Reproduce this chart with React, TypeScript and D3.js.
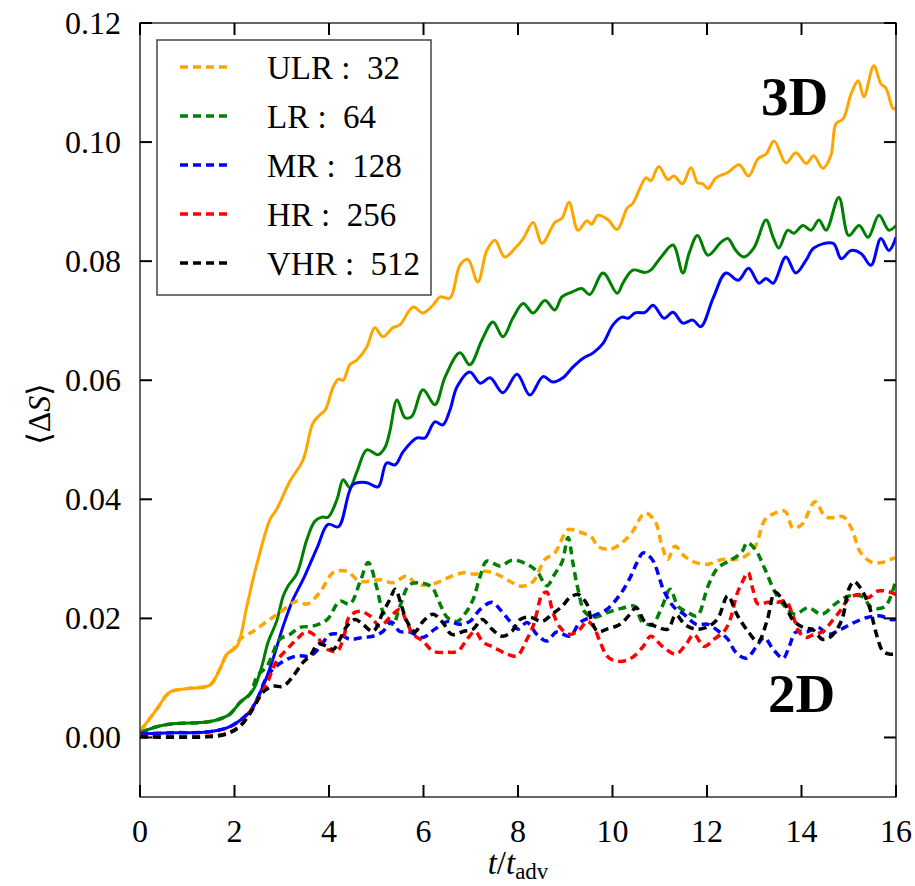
import React from "react";
import * as d3 from "d3";

type P = [number, number];

const xTicks = [0, 2, 4, 6, 8, 10, 12, 14, 16];
const yTicks = [0, 0.02, 0.04, 0.06, 0.08, 0.1, 0.12];

const seriesNames = ["ULR :  32", "LR :  64", "MR :  128", "HR :  256", "VHR :  512"];
const seriesColors = ["#FFA500", "#008000", "#0000FF", "#FF0000", "#000000"];

const ulr3d: P[] = [[0,0.001],[0.36,0.0048],[0.63,0.0076],[1.0,0.0082],[1.48,0.0088],[1.69,0.0115],[1.84,0.014],[2.05,0.0153],[2.26,0.022],[2.39,0.0265],[2.5,0.0299],[2.75,0.0366],[2.89,0.0383],[3.17,0.043],[3.45,0.0466],[3.66,0.0528],[3.81,0.0542],[3.92,0.055],[4.09,0.0589],[4.2,0.0602],[4.3,0.060],[4.44,0.0626],[4.59,0.0634],[4.8,0.0656],[4.97,0.0688],[5.14,0.0673],[5.35,0.0688],[5.5,0.0693],[5.78,0.0723],[5.99,0.0713],[6.2,0.0726],[6.35,0.074],[6.56,0.0738],[6.77,0.0793],[6.94,0.0803],[7.15,0.0765],[7.34,0.0818],[7.51,0.0835],[7.72,0.0807],[7.94,0.0822],[8.11,0.0838],[8.32,0.0865],[8.51,0.083],[8.78,0.0865],[8.93,0.0872],[9.08,0.0899],[9.27,0.0852],[9.46,0.0868],[9.56,0.0862],[9.69,0.0877],[9.9,0.087],[10.1,0.0853],[10.31,0.0889],[10.43,0.0897],[10.71,0.094],[10.81,0.0935],[10.98,0.0959],[11.17,0.0937],[11.3,0.0943],[11.48,0.093],[11.66,0.0957],[11.8,0.0932],[11.91,0.093],[12.02,0.0922],[12.19,0.094],[12.44,0.0949],[12.68,0.0962],[12.88,0.0943],[13.08,0.0972],[13.25,0.098],[13.42,0.1002],[13.67,0.0965],[13.88,0.0982],[14.1,0.0964],[14.26,0.0977],[14.45,0.0956],[14.62,0.0977],[14.73,0.1031],[14.88,0.1039],[15.05,0.1081],[15.2,0.1103],[15.32,0.1076],[15.53,0.1128],[15.68,0.1098],[15.79,0.109],[15.94,0.1056],[16,0.1058]];

const lr3d: P[] = [[0,0.0008],[0.35,0.0018],[0.7,0.0023],[1.41,0.0026],[1.69,0.0031],[1.9,0.0039],[2.12,0.0059],[2.33,0.0073],[2.43,0.0085],[2.58,0.012],[2.71,0.016],[2.89,0.0195],[3.03,0.0237],[3.13,0.0254],[3.32,0.0275],[3.53,0.0332],[3.7,0.0363],[3.85,0.037],[3.98,0.037],[4.17,0.04],[4.3,0.0433],[4.44,0.042],[4.59,0.0446],[4.8,0.0483],[5.04,0.0475],[5.19,0.0488],[5.29,0.0515],[5.44,0.0567],[5.61,0.0537],[5.75,0.0539],[5.99,0.0584],[6.24,0.0559],[6.46,0.0606],[6.77,0.0646],[6.98,0.0626],[7.24,0.0668],[7.47,0.0698],[7.68,0.0673],[7.89,0.0704],[8.11,0.0729],[8.32,0.0713],[8.57,0.0734],[8.78,0.0718],[8.93,0.074],[9.14,0.0748],[9.35,0.0754],[9.52,0.0744],[9.8,0.078],[10.1,0.0746],[10.22,0.0763],[10.43,0.0785],[10.69,0.0781],[10.81,0.0785],[11.03,0.0807],[11.28,0.0827],[11.49,0.078],[11.62,0.0813],[11.8,0.0843],[12.02,0.081],[12.3,0.0832],[12.44,0.0838],[12.61,0.0818],[12.78,0.0807],[12.99,0.0822],[13.25,0.0869],[13.4,0.084],[13.52,0.0822],[13.71,0.0852],[13.84,0.0847],[14.03,0.086],[14.2,0.0852],[14.37,0.0869],[14.52,0.0852],[14.79,0.0907],[15.0,0.0843],[15.22,0.086],[15.41,0.084],[15.64,0.0877],[15.85,0.0852],[16,0.086]];

const mr3d: P[] = [[0,0.0006],[0.7,0.0008],[1.41,0.0009],[1.84,0.0016],[2.07,0.0026],[2.33,0.0044],[2.5,0.0068],[2.69,0.0103],[2.86,0.0143],[3.03,0.0187],[3.24,0.0232],[3.45,0.0265],[3.75,0.0319],[3.98,0.0358],[4.2,0.0354],[4.51,0.0425],[4.8,0.0428],[5.04,0.0421],[5.22,0.0461],[5.4,0.0458],[5.57,0.048],[5.86,0.0503],[6.03,0.0503],[6.24,0.053],[6.41,0.0525],[6.56,0.055],[6.71,0.0589],[6.98,0.0614],[7.2,0.0595],[7.41,0.0604],[7.68,0.0579],[7.98,0.061],[8.25,0.0575],[8.53,0.0606],[8.74,0.0597],[8.95,0.0604],[9.16,0.0622],[9.38,0.0637],[9.59,0.0646],[9.8,0.0662],[10.01,0.0693],[10.2,0.0706],[10.33,0.0704],[10.48,0.0713],[10.69,0.0714],[10.86,0.0726],[11.09,0.0704],[11.28,0.0714],[11.49,0.0696],[11.7,0.0701],[11.87,0.069],[12.13,0.0738],[12.4,0.078],[12.66,0.0768],[12.88,0.0788],[13.1,0.0763],[13.25,0.0771],[13.4,0.0763],[13.67,0.0807],[13.88,0.078],[14.1,0.0802],[14.26,0.0822],[14.67,0.083],[14.84,0.0804],[15.05,0.0818],[15.26,0.0813],[15.47,0.0793],[15.68,0.0838],[15.85,0.0818],[16,0.084]];

const ulr2d: P[] = [[0,0.001],[0.36,0.0048],[0.63,0.0076],[1.0,0.0082],[1.48,0.0088],[1.69,0.0115],[1.84,0.014],[1.97,0.0148],[2.12,0.0165],[2.39,0.0178],[2.69,0.0195],[2.96,0.021],[3.32,0.0229],[3.53,0.0224],[3.81,0.0244],[4.09,0.0277],[4.38,0.0279],[4.66,0.0262],[5.08,0.0265],[5.35,0.026],[5.65,0.0271],[5.86,0.0257],[6.14,0.0257],[6.35,0.0262],[6.6,0.0271],[6.88,0.0277],[7.09,0.0274],[7.3,0.0279],[7.56,0.0274],[7.83,0.0262],[8.08,0.0254],[8.32,0.0262],[8.57,0.0299],[8.78,0.031],[9.06,0.0349],[9.27,0.0346],[9.56,0.0336],[9.69,0.0321],[9.95,0.0316],[10.2,0.0327],[10.41,0.0344],[10.69,0.0377],[10.9,0.0363],[11.05,0.0321],[11.17,0.0299],[11.32,0.0321],[11.53,0.0304],[11.75,0.0294],[12.02,0.0291],[12.32,0.0299],[12.59,0.0299],[12.8,0.0304],[13.02,0.0321],[13.23,0.0366],[13.44,0.0377],[13.65,0.038],[13.82,0.0352],[14.01,0.0358],[14.29,0.0396],[14.5,0.0371],[14.71,0.0369],[14.88,0.0371],[15.07,0.0349],[15.24,0.0312],[15.49,0.0294],[15.7,0.0294],[15.98,0.0302]];

const lr2d: P[] = [[0,0.0008],[0.35,0.0018],[0.7,0.0023],[1.41,0.0026],[1.69,0.0031],[1.9,0.0039],[2.12,0.0059],[2.33,0.0073],[2.48,0.0103],[2.69,0.012],[2.96,0.0165],[3.17,0.0173],[3.39,0.0185],[3.66,0.0187],[3.96,0.0198],[4.23,0.0229],[4.44,0.0224],[4.66,0.0262],[4.83,0.0294],[5.01,0.0252],[5.14,0.0212],[5.35,0.019],[5.5,0.022],[5.71,0.0257],[5.99,0.0259],[6.18,0.0252],[6.35,0.0224],[6.5,0.0202],[6.71,0.0195],[6.88,0.0208],[7.05,0.0232],[7.2,0.0271],[7.34,0.0296],[7.62,0.0288],[7.89,0.0298],[8.19,0.0291],[8.4,0.0279],[8.61,0.0255],[8.78,0.0275],[8.93,0.0294],[9.06,0.0336],[9.16,0.0294],[9.27,0.0249],[9.42,0.021],[9.63,0.0202],[9.9,0.021],[10.2,0.0217],[10.48,0.022],[10.62,0.0195],[10.84,0.019],[11.05,0.022],[11.22,0.0249],[11.39,0.022],[11.6,0.021],[11.79,0.0204],[12.02,0.0254],[12.23,0.0285],[12.53,0.0299],[12.74,0.0312],[12.85,0.0327],[13.02,0.0316],[13.23,0.0282],[13.44,0.0244],[13.65,0.022],[13.86,0.0207],[14.14,0.0218],[14.43,0.0207],[14.71,0.0224],[14.98,0.0237],[15.28,0.0237],[15.49,0.0218],[15.77,0.022],[15.98,0.026]];

const mr2d: P[] = [[0,0.0006],[0.7,0.0008],[1.41,0.0009],[1.84,0.0016],[2.07,0.0026],[2.33,0.0044],[2.5,0.0068],[2.69,0.0103],[2.82,0.0115],[3.03,0.0128],[3.32,0.0137],[3.6,0.0137],[3.81,0.0152],[4.02,0.0173],[4.23,0.0173],[4.44,0.0165],[4.72,0.0168],[4.93,0.017],[5.14,0.0178],[5.32,0.0194],[5.5,0.0178],[5.71,0.0177],[5.99,0.0168],[6.24,0.0182],[6.52,0.0195],[6.77,0.019],[6.98,0.0195],[7.2,0.0215],[7.45,0.0227],[7.62,0.0215],[7.83,0.0195],[8.0,0.0182],[8.19,0.0193],[8.4,0.0173],[8.61,0.0162],[8.82,0.0177],[9.1,0.017],[9.31,0.0193],[9.59,0.0204],[9.88,0.0215],[10.16,0.024],[10.37,0.0268],[10.52,0.0294],[10.65,0.031],[10.84,0.0299],[11.09,0.0246],[11.3,0.0219],[11.51,0.0207],[11.77,0.019],[12.02,0.019],[12.25,0.0178],[12.44,0.0165],[12.61,0.0143],[12.83,0.0133],[13.04,0.0152],[13.21,0.0168],[13.4,0.0148],[13.61,0.0133],[13.74,0.0153],[13.88,0.0177],[14.14,0.0178],[14.35,0.0185],[14.56,0.0173],[14.84,0.0182],[15.11,0.0193],[15.41,0.0202],[15.68,0.0204],[15.89,0.0198],[16,0.0198]];

const hr2d: P[] = [[0,0.0002],[1.41,0.0002],[1.84,0.0007],[2.12,0.002],[2.39,0.005],[2.6,0.0078],[2.71,0.0095],[2.89,0.0128],[3.11,0.0148],[3.32,0.0165],[3.53,0.0178],[3.75,0.0168],[3.96,0.0148],[4.17,0.0145],[4.3,0.0165],[4.44,0.0204],[4.66,0.0212],[4.87,0.0204],[5.08,0.0187],[5.29,0.0202],[5.5,0.0215],[5.65,0.0193],[5.78,0.0173],[5.99,0.0162],[6.2,0.0145],[6.5,0.0143],[6.73,0.0145],[6.92,0.0165],[7.09,0.0178],[7.26,0.016],[7.47,0.0152],[7.77,0.014],[7.98,0.0137],[8.19,0.0165],[8.32,0.0187],[8.4,0.021],[8.51,0.024],[8.61,0.0244],[8.74,0.021],[8.89,0.0185],[9.1,0.0173],[9.31,0.0182],[9.46,0.0195],[9.59,0.0187],[9.74,0.016],[9.88,0.0137],[10.01,0.013],[10.22,0.0128],[10.43,0.0135],[10.65,0.0153],[10.81,0.017],[11.07,0.0152],[11.34,0.014],[11.56,0.0157],[11.72,0.0173],[11.94,0.0153],[12.15,0.0165],[12.36,0.0178],[12.49,0.0198],[12.63,0.024],[12.74,0.026],[12.87,0.0277],[12.97,0.0249],[13.08,0.0224],[13.29,0.0227],[13.5,0.0227],[13.67,0.0229],[13.82,0.0204],[13.95,0.0177],[14.1,0.0168],[14.26,0.0173],[14.45,0.0178],[14.67,0.0198],[14.84,0.0215],[14.98,0.0232],[15.2,0.024],[15.41,0.0235],[15.62,0.0246],[15.83,0.0245],[16,0.024]];

const vhr2d: P[] = [[0,0.0001],[1.41,0.0001],[1.84,0.0006],[2.12,0.0019],[2.39,0.0048],[2.6,0.0076],[2.82,0.0086],[3.03,0.0086],[3.24,0.0103],[3.45,0.0126],[3.6,0.0137],[3.77,0.0157],[3.96,0.0153],[4.09,0.0148],[4.23,0.0165],[4.38,0.0187],[4.55,0.0198],[4.72,0.019],[4.93,0.0178],[5.14,0.021],[5.29,0.0232],[5.4,0.0249],[5.54,0.022],[5.65,0.0195],[5.82,0.0178],[5.99,0.0195],[6.2,0.0207],[6.41,0.0193],[6.6,0.0173],[6.84,0.0178],[7.05,0.0182],[7.24,0.0198],[7.45,0.0182],[7.66,0.017],[7.87,0.0178],[8.04,0.0198],[8.25,0.0202],[8.51,0.0195],[8.72,0.0207],[8.93,0.022],[9.1,0.0235],[9.27,0.024],[9.46,0.0224],[9.56,0.0195],[9.69,0.0178],[9.88,0.0182],[10.16,0.019],[10.37,0.0207],[10.5,0.0218],[10.69,0.0194],[10.9,0.0187],[11.17,0.0182],[11.34,0.0206],[11.53,0.019],[11.75,0.0182],[12.02,0.0186],[12.23,0.02],[12.44,0.0238],[12.63,0.0207],[12.87,0.0178],[13.08,0.0161],[13.27,0.0196],[13.44,0.0244],[13.62,0.0228],[13.82,0.0197],[14.03,0.0185],[14.24,0.0181],[14.44,0.0165],[14.63,0.017],[14.85,0.0197],[15.0,0.0249],[15.11,0.0262],[15.25,0.0251],[15.43,0.0221],[15.58,0.0175],[15.72,0.0145],[15.86,0.014],[16,0.014]];

const solids: P[][] = [ulr3d, lr3d, mr3d];
const dashed: P[][] = [ulr2d, lr2d, mr2d, hr2d, vhr2d];

const FONT = "'Liberation Serif', 'Times New Roman', 'DejaVu Serif', serif";

export default function App() {
  const W = 915, H = 886;
  const x = d3.scaleLinear().domain([0, 16]).range([140, 896]);
  const y = d3.scaleLinear().domain([-0.01, 0.12]).range([797, 23]);
  const line = d3
    .line<P>()
    .x((d) => x(d[0]))
    .y((d) => y(d[1]))
    .curve(d3.curveCatmullRom.alpha(0.5));
  const [x0, x1] = x.range();
  const [yb, yt] = y.range();
  const tickLen = 12;
  const fmt = d3.format(".2f");

  return (
    <svg
      width={W}
      height={H}
      style={{ position: "absolute", left: 0, top: 0, background: "#fff", fontFamily: FONT }}
    >
      <defs>
        <clipPath id="plotclip">
          <rect x={x0} y={yt} width={x1 - x0} height={yb - yt} />
        </clipPath>
      </defs>
      <rect x={0} y={0} width={W} height={H} fill="#fff" />
      <g clipPath="url(#plotclip)">
        {solids.map((s, i) => (
          <path key={"s" + i} d={line(s) || ""} fill="none" stroke={seriesColors[i]} strokeWidth={3} strokeLinejoin="round" />
        ))}
        {dashed.map((s, i) => (
          <path key={"d" + i} d={line(s) || ""} fill="none" stroke={seriesColors[i]} strokeWidth={3.5} strokeDasharray="8,5" />
        ))}
      </g>
      <rect x={x0} y={yt} width={x1 - x0} height={yb - yt} fill="none" stroke="#333" strokeWidth={1.5} />
      {xTicks.map((t) => (
        <g key={"xt" + t}>
          <line x1={x(t)} x2={x(t)} y1={yb} y2={yb - tickLen} stroke="#000" strokeWidth={2} />
          <line x1={x(t)} x2={x(t)} y1={yt} y2={yt + tickLen} stroke="#000" strokeWidth={2} />
          <text x={x(t)} y={842} textAnchor="middle" fontSize={32} fill="#000">
            {t}
          </text>
        </g>
      ))}
      {yTicks.map((t) => (
        <g key={"yt" + t}>
          <line x1={x0} x2={x0 + tickLen} y1={y(t)} y2={y(t)} stroke="#000" strokeWidth={2} />
          <line x1={x1} x2={x1 - tickLen} y1={y(t)} y2={y(t)} stroke="#000" strokeWidth={2} />
          <text x={121} y={y(t) + 11} textAnchor="end" fontSize={32} fill="#000">
            {fmt(t)}
          </text>
        </g>
      ))}
      <text x={518} y={874} textAnchor="middle" fontSize={33} fill="#000">
        <tspan fontStyle="italic">t</tspan>
        <tspan>/</tspan>
        <tspan fontStyle="italic">t</tspan>
        <tspan fontSize={23} dy={5}>adv</tspan>
      </text>
      <text transform="translate(50,414) rotate(-90)" textAnchor="middle" fontSize={32} fill="#000">
        <tspan>⟨Δ</tspan>
        <tspan fontStyle="italic">S</tspan>
        <tspan>⟩</tspan>
      </text>
      <rect x={157} y={40} width={274} height={255} fill="#fff" stroke="#444" strokeWidth={1.5} />
      {seriesNames.map((n, i) => {
        const yy = 79 + i * 49;
        return (
          <g key={"lg" + i}>
            <line x1={180} x2={229} y1={yy - 12} y2={yy - 12} stroke={seriesColors[i]} strokeWidth={3.5} strokeDasharray="8,5" />
            <text x={267} y={yy} fontSize={33} fill="#000" style={{ whiteSpace: "pre" }}>
              {n}
            </text>
          </g>
        );
      })}
      <text x={761} y={115} fontSize={55} fontWeight="bold" fill="#000">
        3D
      </text>
      <text x={768} y={712} fontSize={55} fontWeight="bold" fill="#000">
        2D
      </text>
    </svg>
  );
}
